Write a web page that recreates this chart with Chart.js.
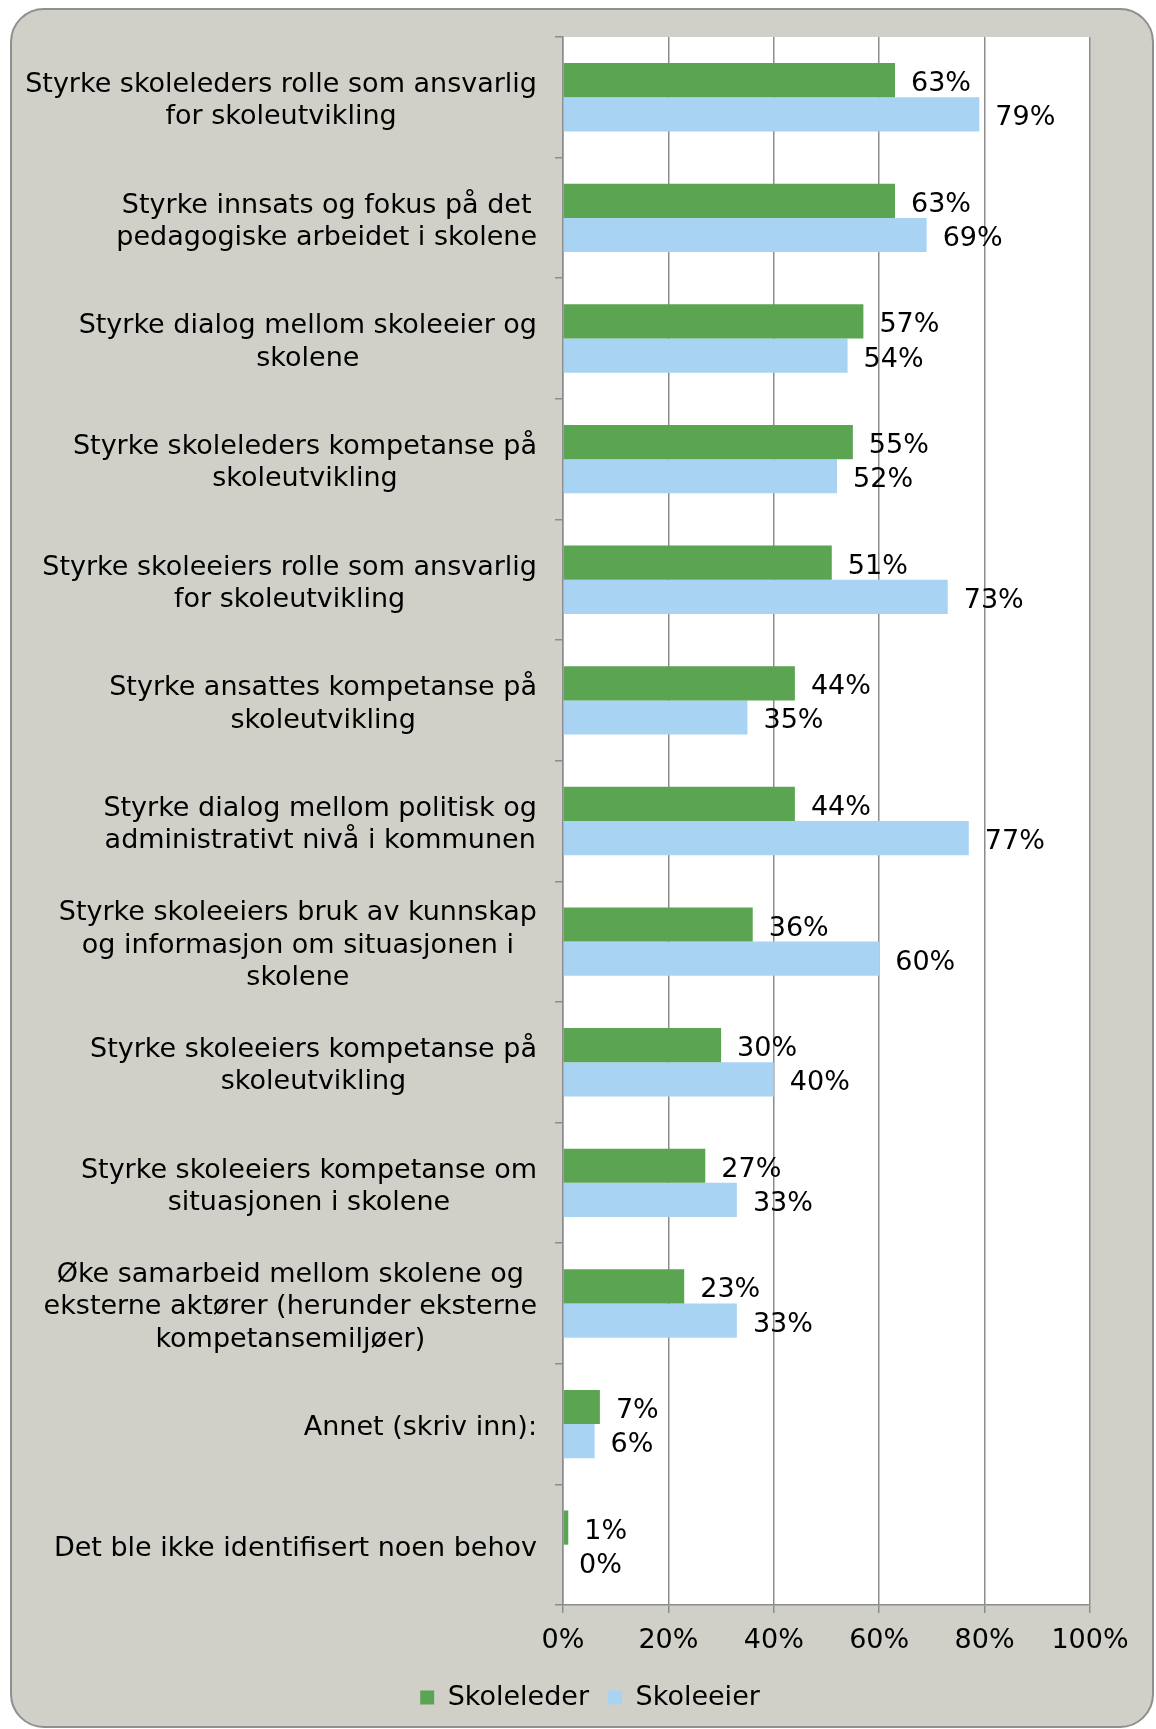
<!DOCTYPE html>
<html>
<head>
<meta charset="utf-8">
<script src="https://cdn.jsdelivr.net/npm/chart.js@4/dist/chart.umd.min.js"></script>
<style>
  body { margin: 0; background: #ffffff; }
  #frame {
    position: absolute; left: 10px; top: 8px; width: 1140px; height: 1716px;
    background: #d0d0c8; border: 2px solid #8f8f8f; border-radius: 34px;
  }
  #wrap { position: absolute; left: 0; top: 0; width: 1156px; height: 1729px; }
</style>
</head>
<body>
<div id="frame"></div>
<div id="wrap"><canvas id="bar_chart" width="1156" height="1729"></canvas></div>
<script>
      const categories = [
        ['Styrke skoleleders rolle som ansvarlig', 'for skoleutvikling'],
        ['Styrke innsats og fokus på det', 'pedagogiske arbeidet i skolene'],
        ['Styrke dialog mellom skoleeier og', 'skolene'],
        ['Styrke skoleleders kompetanse på', 'skoleutvikling'],
        ['Styrke skoleeiers rolle som ansvarlig', 'for skoleutvikling'],
        ['Styrke ansattes kompetanse på', 'skoleutvikling'],
        ['Styrke dialog mellom politisk og', 'administrativt nivå i kommunen'],
        ['Styrke skoleeiers bruk av kunnskap', 'og informasjon om situasjonen i', 'skolene'],
        ['Styrke skoleeiers kompetanse på', 'skoleutvikling'],
        ['Styrke skoleeiers kompetanse om', 'situasjonen i skolene'],
        ['Øke samarbeid mellom skolene og', 'eksterne aktører (herunder eksterne', 'kompetansemiljøer)'],
        ['Annet (skriv inn):'],
        ['Det ble ikke identifisert noen behov']
      ];
      const skoleleder = [63, 63, 57, 55, 51, 44, 44, 36, 30, 27, 23, 7, 1];
      const skoleeier  = [79, 69, 54, 52, 73, 35, 77, 60, 40, 33, 33, 6, 0];
      const xTicks = [0, 20, 40, 60, 80, 100];

      const FONT = 'DejaVu Sans';
      const FSIZE = 27;
      const gridColor = '#8c8c8c';

      // white plot area
      const plotBg = {
        id: 'plotBg',
        beforeDraw(chart) {
          const a = chart.chartArea, c = chart.ctx;
          c.save();
          c.fillStyle = '#ffffff';
          c.fillRect(a.left, a.top, a.right - a.left, a.bottom - a.top);
          c.restore();
        }
      };

      // category labels: block right aligned, lines centred inside block
      const catLabels = {
        id: 'catLabels',
        afterDraw(chart) {
          const y = chart.scales.y, c = chart.ctx;
          c.save();
          c.font = FSIZE + 'px "' + FONT + '"';
          c.fillStyle = '#000000';
          c.textAlign = 'center';
          c.textBaseline = 'middle';
          const right = y.right - 8 - 18;
          const lh = 32.3;
          categories.forEach((lines, i) => {
            const py = y.getPixelForValue(i);
            let w = 0;
            lines.forEach(l => { w = Math.max(w, c.measureText(l).width); });
            lines.forEach((l, k) => {
              c.fillText(l, right - w / 2, py + 4 + (k - (lines.length - 1) / 2) * lh);
            });
          });
          c.restore();
        }
      };

      // value labels right of each bar
      const valueLabels = {
        id: 'valueLabels',
        afterDatasetsDraw(chart) {
          const c = chart.ctx;
          c.save();
          c.font = FSIZE + 'px "' + FONT + '"';
          c.fillStyle = '#000000';
          c.textAlign = 'left';
          c.textBaseline = 'middle';
          chart.data.datasets.forEach((ds, di) => {
            chart.getDatasetMeta(di).data.forEach((bar, i) => {
              c.fillText(ds.data[i] + '%', bar.x + 16, bar.y + 4);
            });
          });
          c.restore();
        }
      };

      const chartData = {
        labels: categories.map(l => l.join(' ')),
        datasets: [{
          label: 'Skoleleder',
          data: skoleleder,
          backgroundColor: '#5ba552',
          categoryPercentage: 0.567,
          barPercentage: 1.0
        }, {
          label: 'Skoleeier',
          data: skoleeier,
          backgroundColor: '#a8d3f3',
          categoryPercentage: 0.567,
          barPercentage: 1.0
        }]
      };

      const ctx = document.getElementById('bar_chart').getContext('2d');
      const chart = new Chart(ctx, {
        type: 'bar',
        data: chartData,
        plugins: [plotBg, catLabels, valueLabels],
        options: {
          indexAxis: 'y',
          responsive: false,
          animation: false,
          layout: { padding: { left: 90, right: 66, top: 37, bottom: 8 } },
          plugins: {
            tooltip: { enabled: false },
            legend: {
              position: 'bottom',
              labels: {
                boxWidth: 14,
                boxHeight: 14,
                padding: 19,
                color: '#000000',
                font: { family: FONT, size: FSIZE }
              }
            }
          },
          scales: {
            x: {
              min: 0,
              max: 100,
              afterBuildTicks: s => { s.ticks = xTicks.map(v => ({ value: v })); },
              afterFit: s => { s.height = 60; },
              ticks: {
                callback: v => v + '%',
                color: '#000000',
                padding: 12,
                maxRotation: 0,
                font: { family: FONT, size: FSIZE }
              },
              grid: { color: gridColor, lineWidth: 1.5, tickLength: 8 },
              border: { color: gridColor, width: 1.5 }
            },
            y: {
              afterFit: s => { s.width = 473; },
              ticks: { display: false },
              grid: { offset: true, drawOnChartArea: false, color: gridColor, lineWidth: 1.5, tickLength: 8 },
              border: { color: gridColor, width: 1.5 }
            }
          }
        }
      });
</script>
</body>
</html>
